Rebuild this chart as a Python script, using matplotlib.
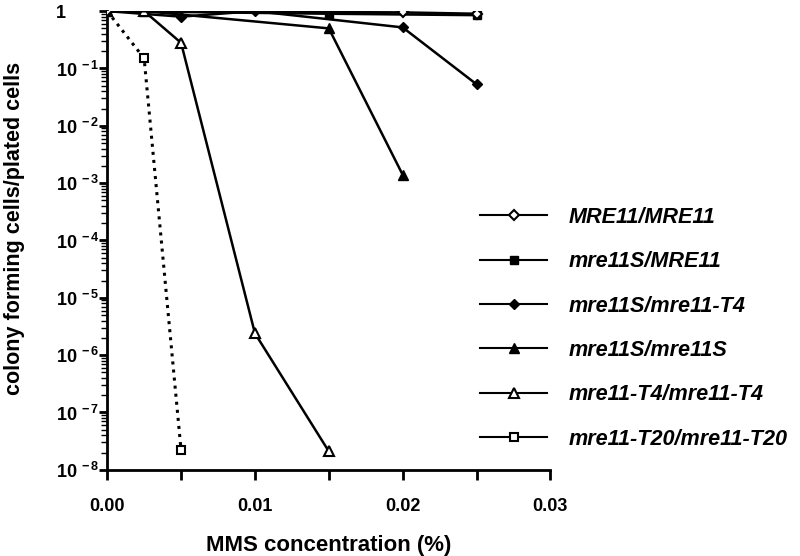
import numpy as np
import matplotlib
matplotlib.use("Agg")
import matplotlib.pyplot as plt
from matplotlib.ticker import FixedLocator, LogLocator, NullFormatter

plt.rcParams['font.family'] = ['Liberation Sans', 'DejaVu Sans']
plt.rcParams['font.weight'] = 'bold'
plt.rcParams['mathtext.fontset'] = 'custom'
plt.rcParams['mathtext.rm'] = 'Liberation Sans:bold'
plt.rcParams['mathtext.bf'] = 'Liberation Sans:bold'

# data
x_wt = [0.0, 0.02, 0.025]
y_wt = [1.0, 0.95, 0.9]

x_s_wt = [0.0, 0.015, 0.025]
y_s_wt = [1.0, 0.9, 0.85]

x_s_t4 = [0.0, 0.005, 0.01, 0.02, 0.025]
y_s_t4 = [1.0, 0.8, 1.0, 0.52, 0.053]

x_s_s = [0.0, 0.0025, 0.015, 0.02]
y_s_s = [1.0, 1.0, 0.5, 1.4e-3]

x_t4 = [0.0, 0.0025, 0.005, 0.01, 0.015]
y_t4 = [1.0, 1.0, 0.28, 2.4e-6, 2.1e-8]

x_t20 = [0.0, 0.0025, 0.005]
y_t20 = [1.0, 0.15, 2.2e-8]

labels = ["MRE11/MRE11", "mre11S/MRE11", "mre11S/mre11-T4",
          "mre11S/mre11S", "mre11-T4/mre11-T4", "mre11-T20/mre11-T20"]

fig = plt.figure(figsize=(8, 5.56), dpi=100)
ax = fig.add_axes([0.134, 0.155, 0.554, 0.825])

lw = 1.8
ax.plot(x_s_wt, y_s_wt, '-', color='black', lw=lw, marker='s', ms=6, mfc='black', label=labels[1], zorder=3)
ax.plot(x_s_t4, y_s_t4, '-', color='black', lw=lw, marker='D', ms=5.5, mfc='black', label=labels[2], zorder=3)
ax.plot(x_s_s, y_s_s, '-', color='black', lw=lw, marker='^', ms=7, mfc='black', label=labels[3], zorder=3)
ax.plot(x_t4, y_t4, '-', color='black', lw=lw, marker='^', ms=7, mfc='white', mew=1.5, label=labels[4], zorder=4)
ax.plot(x_t20, y_t20, ':', color='black', lw=2.2, marker='s', ms=6, mfc='white', mew=1.5, label=labels[5], zorder=4)
ax.plot(x_wt, y_wt, '-', color='black', lw=lw, marker='D', ms=5.5, mfc='white', mew=1.5, label=labels[0], zorder=5)

ax.set_yscale('log')
ax.set_ylim(1e-8, 1.0)
ax.set_xlim(0, 0.03)

ax.xaxis.set_major_locator(FixedLocator([0, 0.01, 0.02, 0.03]))
ax.xaxis.set_minor_locator(FixedLocator([0.005, 0.015, 0.025]))
ax.set_xticklabels(['0.00', '0.01', '0.02', '0.03'])

yt = [10.0 ** -k for k in range(0, 9)]
ax.yaxis.set_major_locator(FixedLocator(yt))
ax.set_yticklabels(['1'] + [r'$\mathbf{10^{\,-%d}}$' % k for k in range(1, 9)])
ax.yaxis.set_minor_locator(LogLocator(base=10, subs=np.arange(2, 10), numticks=20))
ax.yaxis.set_minor_formatter(NullFormatter())

for s in ['top', 'right']:
    ax.spines[s].set_visible(False)
for s in ['left', 'bottom']:
    ax.spines[s].set_linewidth(2)

ax.tick_params(axis='x', which='major', length=7, width=2, labelsize=13, pad=13)
ax.tick_params(axis='x', which='minor', length=7, width=2)
ax.tick_params(axis='y', which='major', length=6, width=2, labelsize=13, pad=31)
ax.tick_params(axis='y', which='minor', length=4, width=1)
for t in ax.get_xticklabels():
    t.set_fontweight('bold')
for t in ax.get_yticklabels():
    t.set_fontweight('bold')
    t.set_horizontalalignment('left')

ax.set_xlabel('MMS concentration (%)', fontsize=16, fontweight='bold', labelpad=15)
ax.set_ylabel('colony forming cells/plated cells', fontsize=15.5, fontweight='bold')
ax.yaxis.set_label_coords(-0.185, 0.527)

handles, labs = ax.get_legend_handles_labels()
order = [labs.index(l) for l in labels]
leg = fig.legend([handles[i] for i in order], [labs[i] for i in order],
                 loc='upper left', bbox_to_anchor=(0.6, 0.628), frameon=False,
                 borderpad=0, borderaxespad=0,
                 handlelength=3.1, labelspacing=1.08, handletextpad=1.0,
                 prop={'size': 15.6, 'weight': 'bold', 'style': 'italic'})
for h in leg.legend_handles:
    h.set_linestyle('-')
    h.set_linewidth(1.5)

fig.savefig('out.png', dpi=100)
